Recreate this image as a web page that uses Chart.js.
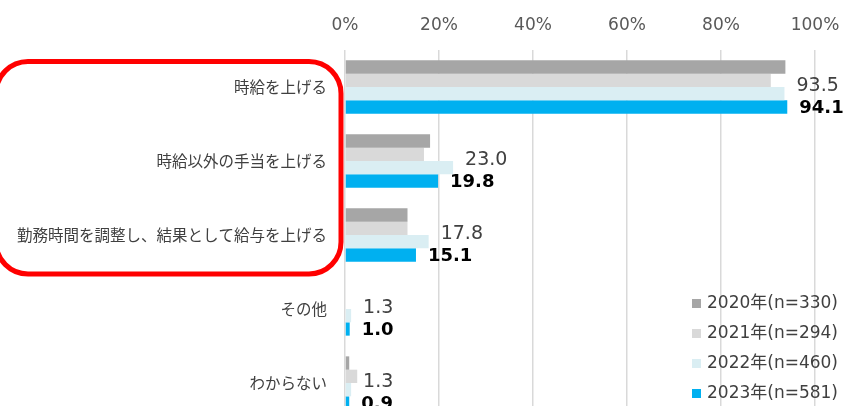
<!DOCTYPE html>
<html>
<head>
<meta charset="utf-8">
<script src="https://cdn.jsdelivr.net/npm/chart.js@4"></script>
<style>
  html, body { margin: 0; padding: 0; background: #fff; overflow: hidden; height: 406px; }
  #clip { width: 848px; height: 406px; overflow: hidden; position: relative; }
  canvas { display: block; }
</style>
</head>
<body>
<div id="clip"><canvas id="chart" width="848" height="425"></canvas></div>
<script>
const categories = ['時給を上げる', '時給以外の手当を上げる', '勤務時間を調整し、結果として給与を上げる', 'その他', 'わからない'];
const seriesNames = ['2020年(n=330)', '2021年(n=294)', '2022年(n=460)', '2023年(n=581)'];
const v2020 = [93.7, 18.1, 13.3, 0, 0.9];
const v2021 = [90.6, 16.8, 13.3, 0, 2.6];
const v2022 = [93.5, 23.0, 17.8, 1.3, 1.3];
const v2023 = [94.1, 19.8, 15.1, 1.0, 0.9];
const tickValues = [0, 20, 40, 60, 80, 100];

const colors = ['#A6A6A6', '#D9D9D9', '#DAEEF3', '#00B0F0'];
const values = [v2020, v2021, v2022, v2023];

// 値ラベル（2022: 通常, 2023: 太字）
const valueLabels = {
  id: 'valueLabels',
  afterDatasetsDraw(chart) {
    const ctx = chart.ctx;
    ctx.save();
    ctx.textBaseline = 'middle';
    ctx.textAlign = 'left';
    [2, 3].forEach(i => {
      const bold = i === 3;
      ctx.font = (bold ? 'bold 18px' : '19px') + ' "DejaVu Sans"';
      ctx.fillStyle = bold ? '#000000' : '#404040';
      chart.getDatasetMeta(i).data.forEach((bar, j) => {
        const v = chart.data.datasets[i].data[j];
        ctx.fillText(v.toFixed(1), bar.x + 12, bar.y + (bold ? 1 : -8));
      });
    });
    ctx.restore();
  }
};

// 凡例（右下）と赤枠
const extras = {
  id: 'extras',
  afterDraw(chart) {
    const ctx = chart.ctx;
    ctx.save();
    ctx.font = '17px "DejaVu Sans", "Noto Sans CJK JP"';
    ctx.textBaseline = 'middle';
    chart.data.datasets.forEach((ds, i) => {
      const y = 303 + i * 30;
      ctx.fillStyle = ds.backgroundColor;
      ctx.fillRect(692, y - 4, 9, 9);
      ctx.fillStyle = '#404040';
      ctx.fillText(ds.label, 707, y + 1);
    });
    ctx.strokeStyle = '#FF0000';
    ctx.lineWidth = 5;
    ctx.beginPath();
    ctx.roundRect(-4, 61.5, 345, 212.5, 32);
    ctx.stroke();
    ctx.restore();
  }
};

new Chart(document.getElementById('chart'), {
  type: 'bar',
  data: {
    labels: categories,
    datasets: seriesNames.map((name, i) => ({
      label: name,
      data: values[i],
      backgroundColor: colors[i],
      borderWidth: 0,
      categoryPercentage: 0.72,
      barPercentage: 1
    }))
  },
  options: {
    indexAxis: 'y',
    responsive: false,
    animation: false,
    layout: { padding: { left: 0, right: 33, top: 0, bottom: 5 } },
    plugins: {
      legend: { display: false },
      tooltip: { enabled: false }
    },
    scales: {
      x: {
        position: 'top',
        min: 0,
        max: 100,
        afterFit: s => { s.height = 50; s.paddingLeft = 0; s.paddingRight = 0; },
        afterBuildTicks: s => { s.ticks = tickValues.map(v => ({ value: v })); },
        ticks: {
          callback: v => v + '%',
          color: '#595959',
          font: { family: 'DejaVu Sans', size: 17 },
          padding: 14,
          maxRotation: 0
        },
        grid: { color: '#D9D9D9', lineWidth: 1.5, drawTicks: false },
        border: { display: false }
      },
      y: {
        afterFit: s => { s.width = 345; s.paddingTop = 0; s.paddingBottom = 0; },
        ticks: {
          color: '#404040',
          font: { family: '"Noto Sans CJK JP"', size: 15.5 },
          padding: 18
        },
        grid: { display: false, drawTicks: false },
        border: { display: false }
      }
    }
  },
  plugins: [valueLabels, extras]
});
</script>
</body>
</html>
